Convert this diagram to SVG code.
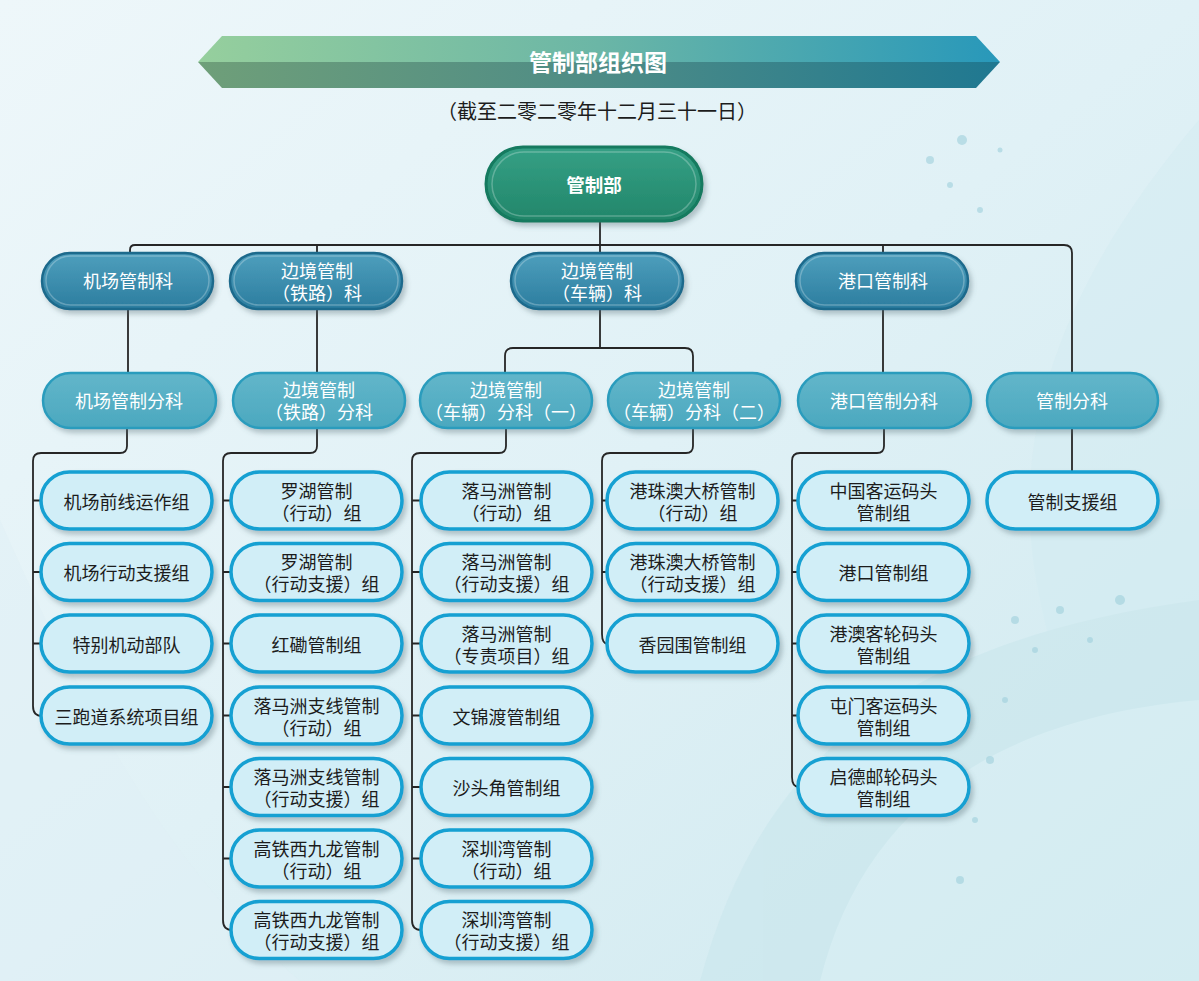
<svg xmlns="http://www.w3.org/2000/svg" width="1199" height="981" viewBox="0 0 1199 981">
<defs>
<linearGradient id="bg" x1="0" y1="0" x2="1" y2="1">
<stop offset="0" stop-color="#eef7fa"/>
<stop offset="0.5" stop-color="#e0f1f6"/>
<stop offset="1" stop-color="#cfe9ef"/>
</linearGradient>
<linearGradient id="banTop" x1="0" y1="0" x2="1" y2="0">
<stop offset="0" stop-color="#96cf9d"/>
<stop offset="0.5" stop-color="#6bb6a6"/>
<stop offset="1" stop-color="#2898ba"/>
</linearGradient>
<linearGradient id="banBot" x1="0" y1="0" x2="1" y2="0">
<stop offset="0" stop-color="#6f9f79"/>
<stop offset="0.5" stop-color="#4e8c86"/>
<stop offset="1" stop-color="#1f7891"/>
</linearGradient>
<linearGradient id="gTop" x1="0" y1="0" x2="0" y2="1">
<stop offset="0" stop-color="#35a085"/>
<stop offset="1" stop-color="#22866a"/>
</linearGradient>
<linearGradient id="gL1" x1="0" y1="0" x2="0" y2="1">
<stop offset="0" stop-color="#4e9fbd"/>
<stop offset="1" stop-color="#2c7d9f"/>
</linearGradient>
<linearGradient id="gL2" x1="0" y1="0" x2="0" y2="1">
<stop offset="0" stop-color="#62b6ca"/>
<stop offset="1" stop-color="#4ba8bf"/>
</linearGradient>
<filter id="sh" x="-10%" y="-20%" width="125%" height="150%">
<feDropShadow dx="3" dy="4" stdDeviation="2.5" flood-color="#506870" flood-opacity="0.35"/>
</filter>
<style>
.l1{fill:url(#gL1);stroke:#1d6a8c;stroke-width:2.5;filter:url(#sh)}
.l2{fill:url(#gL2);stroke:#2a9cbd;stroke-width:2.5;filter:url(#sh)}
.lf{fill:#d1eef7;stroke:#13a0d2;stroke-width:3.5;filter:url(#sh)}
.hi{fill:none;stroke:#ffffff;stroke-opacity:0.25;stroke-width:1.5}
.tw{font-family:"Noto Sans CJK SC","Noto Sans CJK TC",sans-serif;font-size:18px;fill:#ffffff;text-anchor:middle;dominant-baseline:central}
.tb{font-family:"Noto Sans CJK SC","Noto Sans CJK TC",sans-serif;font-size:18px;fill:#1c1c1c;text-anchor:middle;dominant-baseline:central}
.cn{fill:none;stroke:#262626;stroke-width:1.8}
</style>
</defs>
<rect width="1199" height="981" fill="url(#bg)"/>
<g opacity="0.5">
<path d="M1199 120 C1080 260 1000 420 1040 600 C1070 760 1180 860 1199 900 Z" fill="#d3ecf2"/>
<path d="M700 981 C760 760 900 640 1199 600 L1199 981 Z" fill="#c8e6ec"/>
<path d="M820 981 C860 820 980 720 1199 700 L1199 981 Z" fill="#d8eff4"/>
<path d="M0 520 C80 700 160 860 300 981 L0 981 Z" fill="#dff0f6"/>
</g>
<g fill="#9fd0dc" opacity="0.6">
<circle cx="930" cy="160" r="4"/><circle cx="950" cy="185" r="3"/><circle cx="962" cy="140" r="5"/><circle cx="980" cy="210" r="3"/><circle cx="1000" cy="150" r="2.5"/>
<circle cx="1015" cy="620" r="4"/><circle cx="1035" cy="650" r="3"/><circle cx="1060" cy="610" r="4"/><circle cx="1090" cy="640" r="3"/><circle cx="1120" cy="600" r="5"/>
<circle cx="1005" cy="700" r="3"/><circle cx="990" cy="760" r="4"/><circle cx="975" cy="820" r="3"/><circle cx="960" cy="880" r="4"/>
</g>

<g id="title">
<polygon points="198,62 222,36 976,36 1000,62" fill="url(#banTop)"/>
<polygon points="198,62 1000,62 976,88 222,88" fill="url(#banBot)"/>
<text x="598" y="61" style="font-family:'Noto Sans CJK SC',sans-serif;font-size:23px;font-weight:bold;fill:#ffffff;text-anchor:middle;dominant-baseline:central">管制部组织图</text>
<text x="597" y="110" style="font-family:'Noto Sans CJK SC',sans-serif;font-size:20px;fill:#1c1c1c;text-anchor:middle;dominant-baseline:central">（截至二零二零年十二月三十一日）</text>
</g>

<g id="connectors">
<path class="cn" d="M600 221 V253"/>
<path class="cn" d="M130 253 V250 Q130 245 135 245 H1064 Q1072 245 1072 253 V373"/>
<path class="cn" d="M317 245 V253 M883 245 V253"/>
<path class="cn" d="M128 308 V373 M317 308 V373 M883 308 V373"/>
<path class="cn" d="M600 308 V348 M505 373 V356 Q505 348 513 348 H685 Q693 348 693 356 V373"/>
<path class="cn" d="M127 428 V446 Q127 453 120 453 H41 Q33 453 33 461 V706 Q33 716 42 716 M33 500.5 H42 M33 572 H42 M33 643.5 H42"/>
<path class="cn" d="M317 428 V446 Q317 453 310 453 H231 Q223 453 223 461 V920 Q223 930 232 930 M223 500.5 H232 M223 572 H232 M223 643.5 H232 M223 715.5 H232 M223 787 H232 M223 858.5 H232"/>
<path class="cn" d="M506 428 V446 Q506 453 499 453 H420 Q412 453 412 461 V920 Q412 930 421 930 M412 500.5 H421 M412 572 H421 M412 643.5 H421 M412 715.5 H421 M412 787 H421 M412 858.5 H421"/>
<path class="cn" d="M693 428 V446 Q693 453 686 453 H610 Q602 453 602 461 V634 Q602 644 608 644 M602 500.5 H608 M602 572 H608"/>
<path class="cn" d="M884 428 V446 Q884 453 877 453 H800 Q792 453 792 461 V777 Q792 787 799 787 M792 500.5 H799 M792 572 H799 M792 643.5 H799 M792 715.5 H799"/>
<path class="cn" d="M1072 428 V472"/>
</g>

<g id="n-root">
<rect x="486" y="147" width="216" height="74" rx="37" fill="url(#gTop)" stroke="#127a5e" stroke-width="3" filter="url(#sh)"/>
<rect x="492" y="152" width="204" height="64" rx="32" class="hi"/>
<text x="594" y="184" style="font-family:'Noto Sans CJK SC',sans-serif;font-size:18.5px;font-weight:bold;fill:#ffffff;text-anchor:middle;dominant-baseline:central">管制部</text>
</g>

<g id="n-airport">
<rect x="42" y="253" width="171" height="56" rx="28" class="l1"/>
<rect x="46" y="256" width="163" height="49" rx="24.5" class="hi"/>
<text x="128" y="280" class="tw">机场管制科</text>
</g>
<g id="n-rail">
<rect x="230" y="253" width="172" height="56" rx="28" class="l1"/>
<rect x="234" y="256" width="164" height="49" rx="24.5" class="hi"/>
<text class="tw"><tspan x="317" y="270">边境管制</tspan><tspan x="317" dy="22">（铁路）科</tspan></text>
</g>
<g id="n-vehicle">
<rect x="511" y="253" width="172" height="56" rx="28" class="l1"/>
<rect x="515" y="256" width="164" height="49" rx="24.5" class="hi"/>
<text class="tw"><tspan x="597" y="270">边境管制</tspan><tspan x="597" dy="22">（车辆）科</tspan></text>
</g>
<g id="n-port">
<rect x="796" y="253" width="172" height="56" rx="28" class="l1"/>
<rect x="800" y="256" width="164" height="49" rx="24.5" class="hi"/>
<text x="883" y="280" class="tw">港口管制科</text>
</g>

<g id="n-airport-sub">
<rect x="43" y="373" width="173" height="55" rx="27.5" class="l2"/>
<text x="129" y="400" class="tw">机场管制分科</text>
</g>
<g id="n-rail-sub">
<rect x="233" y="373" width="172" height="55" rx="27.5" class="l2"/>
<text class="tw"><tspan x="319" y="389">边境管制</tspan><tspan x="319" dy="22">（铁路）分科</tspan></text>
</g>
<g id="n-veh-sub1">
<rect x="420" y="373" width="172" height="55" rx="27.5" class="l2"/>
<text class="tw"><tspan x="506" y="389">边境管制</tspan><tspan x="506" dy="22">（车辆）分科（一）</tspan></text>
</g>
<g id="n-veh-sub2">
<rect x="608" y="373" width="172" height="55" rx="27.5" class="l2"/>
<text class="tw"><tspan x="694" y="389">边境管制</tspan><tspan x="694" dy="22">（车辆）分科（二）</tspan></text>
</g>
<g id="n-port-sub">
<rect x="798" y="373" width="173" height="55" rx="27.5" class="l2"/>
<text x="884" y="400" class="tw">港口管制分科</text>
</g>
<g id="n-ctrl-sub">
<rect x="987" y="373" width="171" height="55" rx="27.5" class="l2"/>
<text x="1072" y="400" class="tw">管制分科</text>
</g>

<!-- column 1 -->
<g id="a1"><rect x="41" y="472" width="171" height="57" rx="28.5" class="lf"/><text x="126.5" y="500.5" class="tb">机场前线运作组</text></g>
<g id="a2"><rect x="41" y="543.5" width="171" height="57" rx="28.5" class="lf"/><text x="126.5" y="572" class="tb">机场行动支援组</text></g>
<g id="a3"><rect x="41" y="615" width="171" height="57" rx="28.5" class="lf"/><text x="126.5" y="643.5" class="tb">特别机动部队</text></g>
<g id="a4"><rect x="41" y="687" width="171" height="57" rx="28.5" class="lf"/><text x="126.5" y="715.5" class="tb">三跑道系统项目组</text></g>

<!-- column 2 -->
<g id="r1"><rect x="231" y="472" width="171" height="57" rx="28.5" class="lf"/><text class="tb"><tspan x="316.5" y="489.5">罗湖管制</tspan><tspan x="316.5" dy="22">（行动）组</tspan></text></g>
<g id="r2"><rect x="231" y="543.5" width="171" height="57" rx="28.5" class="lf"/><text class="tb"><tspan x="316.5" y="561">罗湖管制</tspan><tspan x="316.5" dy="22">（行动支援）组</tspan></text></g>
<g id="r3"><rect x="231" y="615" width="171" height="57" rx="28.5" class="lf"/><text x="316.5" y="643.5" class="tb">红磡管制组</text></g>
<g id="r4"><rect x="231" y="687" width="171" height="57" rx="28.5" class="lf"/><text class="tb"><tspan x="316.5" y="704.5">落马洲支线管制</tspan><tspan x="316.5" dy="22">（行动）组</tspan></text></g>
<g id="r5"><rect x="231" y="758.5" width="171" height="57" rx="28.5" class="lf"/><text class="tb"><tspan x="316.5" y="776">落马洲支线管制</tspan><tspan x="316.5" dy="22">（行动支援）组</tspan></text></g>
<g id="r6"><rect x="231" y="830" width="171" height="57" rx="28.5" class="lf"/><text class="tb"><tspan x="316.5" y="847.5">高铁西九龙管制</tspan><tspan x="316.5" dy="22">（行动）组</tspan></text></g>
<g id="r7"><rect x="231" y="901.5" width="171" height="57" rx="28.5" class="lf"/><text class="tb"><tspan x="316.5" y="919">高铁西九龙管制</tspan><tspan x="316.5" dy="22">（行动支援）组</tspan></text></g>

<!-- column 3 -->
<g id="v1"><rect x="421" y="472" width="171" height="57" rx="28.5" class="lf"/><text class="tb"><tspan x="506.5" y="489.5">落马洲管制</tspan><tspan x="506.5" dy="22">（行动）组</tspan></text></g>
<g id="v2"><rect x="421" y="543.5" width="171" height="57" rx="28.5" class="lf"/><text class="tb"><tspan x="506.5" y="561">落马洲管制</tspan><tspan x="506.5" dy="22">（行动支援）组</tspan></text></g>
<g id="v3"><rect x="421" y="615" width="171" height="57" rx="28.5" class="lf"/><text class="tb"><tspan x="506.5" y="632.5">落马洲管制</tspan><tspan x="506.5" dy="22">（专责项目）组</tspan></text></g>
<g id="v4"><rect x="421" y="687" width="171" height="57" rx="28.5" class="lf"/><text x="506.5" y="715.5" class="tb">文锦渡管制组</text></g>
<g id="v5"><rect x="421" y="758.5" width="171" height="57" rx="28.5" class="lf"/><text x="506.5" y="787" class="tb">沙头角管制组</text></g>
<g id="v6"><rect x="421" y="830" width="171" height="57" rx="28.5" class="lf"/><text class="tb"><tspan x="506.5" y="847.5">深圳湾管制</tspan><tspan x="506.5" dy="22">（行动）组</tspan></text></g>
<g id="v7"><rect x="421" y="901.5" width="171" height="57" rx="28.5" class="lf"/><text class="tb"><tspan x="506.5" y="919">深圳湾管制</tspan><tspan x="506.5" dy="22">（行动支援）组</tspan></text></g>

<!-- column 4 -->
<g id="w1"><rect x="607" y="472" width="171" height="57" rx="28.5" class="lf"/><text class="tb"><tspan x="692.5" y="489.5">港珠澳大桥管制</tspan><tspan x="692.5" dy="22">（行动）组</tspan></text></g>
<g id="w2"><rect x="607" y="543.5" width="171" height="57" rx="28.5" class="lf"/><text class="tb"><tspan x="692.5" y="561">港珠澳大桥管制</tspan><tspan x="692.5" dy="22">（行动支援）组</tspan></text></g>
<g id="w3"><rect x="607" y="615" width="171" height="57" rx="28.5" class="lf"/><text x="692.5" y="643.5" class="tb">香园围管制组</text></g>

<!-- column 5 -->
<g id="p1"><rect x="798" y="472" width="171" height="57" rx="28.5" class="lf"/><text class="tb"><tspan x="883.5" y="489.5">中国客运码头</tspan><tspan x="883.5" dy="22">管制组</tspan></text></g>
<g id="p2"><rect x="798" y="543.5" width="171" height="57" rx="28.5" class="lf"/><text x="883.5" y="572" class="tb">港口管制组</text></g>
<g id="p3"><rect x="798" y="615" width="171" height="57" rx="28.5" class="lf"/><text class="tb"><tspan x="883.5" y="632.5">港澳客轮码头</tspan><tspan x="883.5" dy="22">管制组</tspan></text></g>
<g id="p4"><rect x="798" y="687" width="171" height="57" rx="28.5" class="lf"/><text class="tb"><tspan x="883.5" y="704.5">屯门客运码头</tspan><tspan x="883.5" dy="22">管制组</tspan></text></g>
<g id="p5"><rect x="798" y="758.5" width="171" height="57" rx="28.5" class="lf"/><text class="tb"><tspan x="883.5" y="776">启德邮轮码头</tspan><tspan x="883.5" dy="22">管制组</tspan></text></g>

<!-- column 6 -->
<g id="c1"><rect x="987" y="472" width="171" height="57" rx="28.5" class="lf"/><text x="1072.5" y="500.5" class="tb">管制支援组</text></g>
</svg>
